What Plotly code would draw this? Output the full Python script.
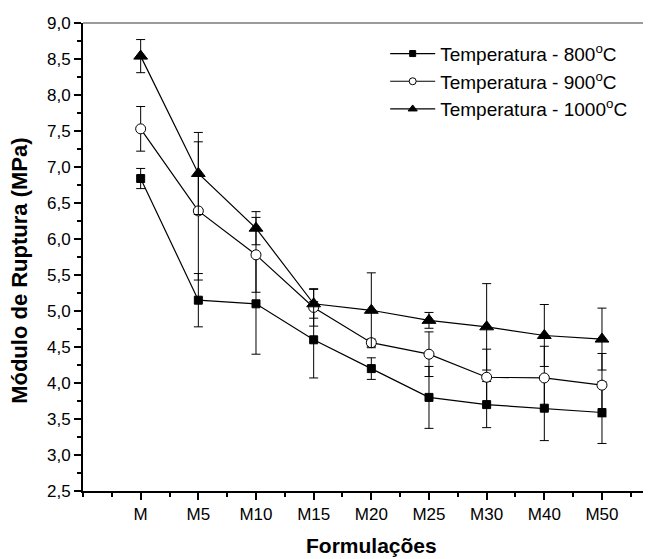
import plotly.graph_objects as go

categories = ["M", "M5", "M10", "M15", "M20", "M25", "M30", "M40", "M50"]

t800 = [6.84, 5.15, 5.10, 4.60, 4.20, 3.80, 3.70, 3.65, 3.59]
e800 = [0.14, 0.37, 0.70, 0.53, 0.15, 0.43, 0.32, 0.45, 0.43]

t900 = [7.53, 6.39, 5.78, 5.05, 4.56, 4.40, 4.08, 4.07, 3.97]
e900 = [0.31, 0.96, 0.52, 0.26, 0.05, 0.31, 0.39, 0.44, 0.44]

t1000 = [8.54, 6.91, 6.15, 5.10, 5.01, 4.87, 4.78, 4.66, 4.61]
e1000 = [0.23, 0.57, 0.23, 0.20, 0.52, 0.11, 0.60, 0.43, 0.43]

series_names = ["Temperatura - 800<sup>o</sup>C",
                "Temperatura - 900<sup>o</sup>C",
                "Temperatura - 1000<sup>o</sup>C"]

x_title = "Formulações"
y_title = "Módulo de Ruptura (MPa)"

x = list(range(len(categories)))
FONT = "Liberation Sans, Arial, sans-serif"

fig = go.Figure()

symbols = ["square", "circle", "triangle-up"]
fills = ["black", "white", "black"]
plot_sizes = [8, 10, 12]
legend_sizes = [6, 7, 8]

for name, vals, errs, sym, fill, ps in zip(series_names, [t800, t900, t1000],
                                            [e800, e900, e1000], symbols, fills, plot_sizes):
    fig.add_trace(go.Scatter(
        x=x, y=vals, name=name, mode="lines+markers", showlegend=False,
        line=dict(color="black", width=1.2),
        marker=dict(symbol=sym, size=ps, color=fill, line=dict(color="black", width=1)),
        error_y=dict(type="data", array=errs, visible=True, color="black",
                     thickness=1, width=4.5),
    ))

# legend entries with the smaller legend symbols
for name, sym, fill, ls in zip(series_names, symbols, fills, legend_sizes):
    fig.add_trace(go.Scatter(
        x=[None], y=[None], name=name, mode="lines+markers",
        line=dict(color="black", width=1.2),
        marker=dict(symbol=sym, size=ls, color=fill, line=dict(color="black", width=1)),
    ))

# page body has an 8px default margin: figure is sized/offset to compensate
fig.update_layout(
    width=643, height=551,
    margin=dict(l=75, r=0, t=15, b=68, autoexpand=False),
    paper_bgcolor="white", plot_bgcolor="white",
    separators=",.",
    font=dict(family=FONT, color="black"),
    showlegend=True,
    legend=dict(x=0.532, y=0.975, xanchor="left", yanchor="top",
                bgcolor="rgba(0,0,0,0)", font=dict(size=19, family=FONT),
                itemwidth=45, tracegroupgap=0),
    shapes=[dict(type="line", xref="paper", yref="paper", x0=0, x1=1, y0=1, y1=1,
                 line=dict(color="#7a7a7a", width=1.5))],
    annotations=[
        dict(text="<b>" + x_title + "</b>", xref="paper", yref="paper",
             x=0.508, y=-0.117, xanchor="center", yanchor="middle",
             showarrow=False, font=dict(size=21, family=FONT)),
        dict(text="<b>" + y_title + "</b>", xref="paper", yref="paper",
             x=-0.113, y=0.47, xanchor="center", yanchor="middle", textangle=-90,
             showarrow=False, font=dict(size=22, family=FONT)),
    ],
)

fig.update_xaxes(
    range=[-1, 8.85],
    tickmode="array",
    tickvals=x,
    ticktext=categories,
    ticks="outside", ticklen=7, tickwidth=1.5, tickcolor="black",
    minor=dict(tickmode="linear", tick0=-1, dtick=0.5, ticks="outside",
               ticklen=4, tickwidth=1.5, tickcolor="black"),
    showline=True, linecolor="black", linewidth=2,
    showgrid=False, zeroline=False, automargin=False,
    tickfont=dict(size=17, family=FONT),
)

fig.update_yaxes(
    range=[2.5, 9.0],
    tickmode="linear", tick0=2.5, dtick=0.5, tickformat=".1f",
    ticks="outside", ticklen=7, tickwidth=1.5, tickcolor="black",
    minor=dict(tickmode="linear", tick0=2.75, dtick=0.5, ticks="outside",
               ticklen=4, tickwidth=1.5, tickcolor="black"),
    showline=True, linecolor="black", linewidth=2,
    showgrid=False, zeroline=False, automargin=False,
    tickfont=dict(size=17, family=FONT),
)

fig.write_html("out.html")
